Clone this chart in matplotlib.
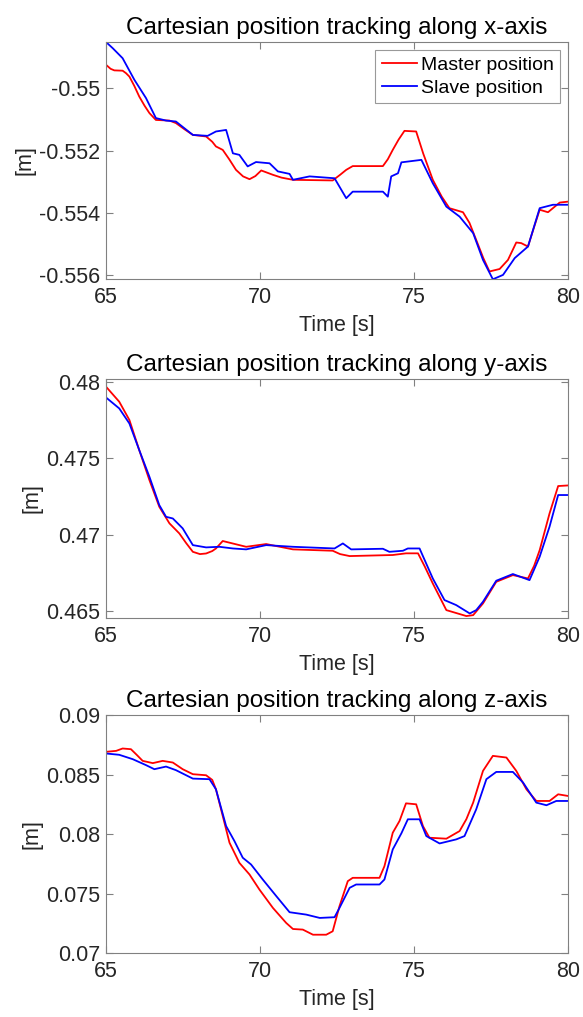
import matplotlib
matplotlib.use("Agg")
import matplotlib.pyplot as plt
from matplotlib import ticker

plt.rcParams["font.family"] = ["Liberation Sans", "DejaVu Sans"]

# x-axis tracking
x_t_master = [65, 65.15, 65.27, 65.54, 65.65, 65.76, 65.92, 66.08, 66.25, 66.41, 66.62, 67.06,
              67.27, 67.55, 67.82, 68.25, 68.45, 68.57, 68.79, 69.0, 69.22, 69.45, 69.66, 69.85,
              70.04, 70.42, 70.7, 71.07, 72.36, 72.6, 72.8, 73.01, 73.99, 74.15, 74.31, 74.5,
              74.69, 75.07, 75.3, 75.61, 75.9, 76.15, 76.59, 76.8, 77.02, 77.25, 77.45, 77.78,
              78.05, 78.32, 78.48, 78.7, 78.9, 79.08, 79.35, 79.73, 80]
x_master = [-0.54925, -0.54938, -0.54943, -0.54944, -0.54952, -0.54963, -0.54993, -0.55027,
            -0.55056, -0.5508, -0.55102, -0.55104, -0.55112, -0.55132, -0.5515, -0.55155,
            -0.55172, -0.55187, -0.55198, -0.55228, -0.55262, -0.55283, -0.55292, -0.55282,
            -0.55264, -0.55278, -0.55287, -0.55294, -0.55296, -0.55278, -0.55262, -0.5525,
            -0.5525, -0.55228, -0.55198, -0.55165, -0.55137, -0.55139, -0.5521, -0.55294,
            -0.55348, -0.55385, -0.55398, -0.55432, -0.55487, -0.55545, -0.55588, -0.5558,
            -0.55551, -0.55495, -0.55497, -0.55508, -0.55445, -0.5539, -0.55398, -0.55367,
            -0.55364]
x_t_slave = [65, 65.22, 65.54, 65.92, 66.3, 66.62, 66.95, 67.27, 67.82, 68.3, 68.57, 68.9,
             69.12, 69.33, 69.6, 69.87, 70.31, 70.58, 70.96, 71.07, 71.61, 72.42, 72.8, 73.01,
             73.99, 74.15, 74.26, 74.48, 74.59, 75.24, 75.61, 76.05, 76.48, 76.92, 77.24, 77.56,
             77.89, 78.27, 78.7, 79.08, 79.51, 80]
x_slave = [-0.54852, -0.54872, -0.54904, -0.54973, -0.55032, -0.55096, -0.55104, -0.55107,
           -0.5515, -0.55153, -0.55139, -0.55134, -0.55209, -0.55214, -0.55251, -0.55237,
           -0.55241, -0.55267, -0.55275, -0.55294, -0.55283, -0.55289, -0.55353, -0.55332,
           -0.55332, -0.55348, -0.55283, -0.55273, -0.55238, -0.5523, -0.55305, -0.5538,
           -0.55412, -0.55465, -0.55551, -0.55613, -0.55599, -0.55545, -0.55508, -0.55385,
           -0.55374, -0.55374]

# y-axis tracking
y_t_master = [65, 65.43, 65.76, 66.08, 66.41, 66.73, 67.06, 67.38, 67.6, 67.82, 68.05, 68.25,
              68.45, 68.57, 68.79, 69.55, 70.2, 71.07, 72.36, 72.6, 72.91, 74.31, 74.74, 75.13,
              75.35, 75.61, 76.05, 76.7, 76.92, 77.24, 77.67, 78.21, 78.7, 78.9, 79.08, 79.4,
              79.68, 80]
y_master = [0.47972, 0.47873, 0.47753, 0.47555, 0.47358, 0.47183, 0.47074, 0.47008, 0.46945,
            0.46887, 0.46872, 0.46876, 0.46892, 0.46909, 0.46958, 0.4692, 0.46938, 0.46903,
            0.46894, 0.46872, 0.46859, 0.46866, 0.46877, 0.46877, 0.4679, 0.46679, 0.46504,
            0.46465, 0.46471, 0.46548, 0.4669, 0.46734, 0.46712, 0.46795, 0.46898, 0.47139,
            0.47319, 0.47323]
y_t_slave = [65, 65.43, 65.76, 66.08, 66.41, 66.73, 66.95, 67.17, 67.49, 67.82, 68.25, 68.68,
             69.12, 69.55, 70.2, 71.07, 72.42, 72.69, 72.96, 73.99, 74.2, 74.64, 74.8, 75.18,
             75.61, 75.99, 76.37, 76.81, 77.02, 77.24, 77.67, 78.21, 78.75, 79.08, 79.4, 79.68, 80]
y_slave = [0.47901, 0.47829, 0.4773, 0.47555, 0.4738, 0.47194, 0.47117, 0.47106, 0.47041,
           0.46931, 0.46916, 0.4692, 0.46909, 0.46903, 0.46931, 0.4692, 0.46909, 0.46942,
           0.46903, 0.46907, 0.46887, 0.46894, 0.46909, 0.46909, 0.46712, 0.4657, 0.46537,
           0.46482, 0.46504, 0.46559, 0.46697, 0.46741, 0.46701, 0.46855, 0.47052, 0.4726, 0.4726]

# z-axis tracking
z_t_master = [65, 65.33, 65.54, 65.81, 66.0, 66.19, 66.52, 66.84, 67.17, 67.49, 67.82, 68.25,
              68.45, 68.57, 68.79, 69.01, 69.33, 69.66, 69.98, 70.42, 70.85, 71.07, 71.39, 71.72,
              72.15, 72.36, 72.58, 72.85, 73.01, 73.88, 74.04, 74.31, 74.53, 74.74, 75.07, 75.29,
              75.5, 76.05, 76.48, 76.7, 76.92, 77.24, 77.56, 78.0, 78.32, 78.65, 78.97, 79.4,
              79.68, 80]
z_master = [0.08691, 0.08699, 0.08719, 0.08713, 0.08665, 0.08615, 0.08596, 0.08615, 0.08601,
            0.08545, 0.08503, 0.08494, 0.08455, 0.08376, 0.08152, 0.07927, 0.07758, 0.0766,
            0.07534, 0.07379, 0.07253, 0.07202, 0.07197, 0.07154, 0.07154, 0.07183, 0.07393,
            0.07604, 0.07632, 0.07632, 0.0773, 0.08011, 0.0811, 0.08258, 0.0825, 0.08067,
            0.07969, 0.07961, 0.08025, 0.08125, 0.08264, 0.08531, 0.08657, 0.08643, 0.08531,
            0.08376, 0.08278, 0.08278, 0.08334, 0.0832]
z_t_slave = [65, 65.43, 65.87, 66.3, 66.57, 66.95, 67.27, 67.82, 68.36, 68.57, 68.9, 69.17,
             69.44, 69.71, 70.09, 70.53, 70.96, 71.5, 71.94, 72.42, 72.58, 72.91, 73.12, 73.88,
             74.04, 74.31, 74.59, 74.8, 75.18, 75.4, 75.83, 76.37, 76.64, 77.02, 77.35, 77.67,
             78.21, 78.54, 78.97, 79.3, 79.62, 80]
z_slave = [0.08677, 0.08666, 0.08629, 0.08579, 0.08545, 0.08567, 0.08537, 0.08466, 0.08461,
           0.08376, 0.08067, 0.07941, 0.07801, 0.07744, 0.07618, 0.07478, 0.07343, 0.07323,
           0.07295, 0.07301, 0.07379, 0.07548, 0.07576, 0.07576, 0.07618, 0.07871, 0.08006,
           0.08124, 0.08124, 0.07983, 0.07921, 0.07955, 0.07983, 0.08208, 0.08461, 0.08522,
           0.08522, 0.08433, 0.08264, 0.08242, 0.08278, 0.08278]

x_ticks = [65, 70, 75, 80]
panels = [
    ("x", x_t_master, x_master, x_t_slave, x_slave, (-0.55612, -0.54852),
     [-0.556, -0.554, -0.552, -0.55]),
    ("y", y_t_master, y_master, y_t_slave, y_slave, (0.46454, 0.4802),
     [0.465, 0.47, 0.475, 0.48]),
    ("z", z_t_master, z_master, z_t_slave, z_slave, (0.07, 0.09),
     [0.07, 0.075, 0.08, 0.085, 0.09]),
]
rects = [
    [0.1818, 0.7257, 0.7925, 0.233],
    [0.1818, 0.3926, 0.7925, 0.2344],
    [0.1818, 0.0629, 0.7925, 0.234],
]

fig = plt.figure(figsize=(5.83, 10.17), dpi=100)
txt = "#262626"
for (axis, tm, m, ts, s, ylim, yt), rect in zip(panels, rects):
    ax = fig.add_axes(rect)
    ax.plot(tm, m, color="red", lw=1.3, label="Master position")
    ax.plot(ts, s, color="blue", lw=1.3, label="Slave position")
    ax.set_xlim(65, 80)
    ax.set_ylim(*ylim)
    ax.set_xticks(x_ticks)
    ax.set_yticks(yt)
    ax.yaxis.set_major_formatter(ticker.FuncFormatter(lambda v, p: f"{v:g}"))
    ax.tick_params(direction="in", length=5, width=0.8, top=True, right=True,
                   labelsize=15.5, colors="#808080", labelcolor=txt, pad=4)
    ax.tick_params(axis="x", pad=6)
    for sp in ax.spines.values():
        sp.set_color("#808080")
        sp.set_linewidth(0.8)
    ax.set_title(f"Cartesian position tracking along {axis}-axis", fontsize=17.5,
                 color="black", pad=6)
    ax.set_xlabel("Time [s]", fontsize=15.5, color=txt, labelpad=5)
    ax.set_ylabel("[m]", fontsize=15.5, color=txt, labelpad=3)
    if axis == "x":
        leg = ax.legend(loc="upper right", fontsize=14, frameon=True, fancybox=False,
                        handlelength=1.8, borderpad=0.35, labelspacing=0.25,
                        handletextpad=0.2, borderaxespad=0.4)
        leg.get_frame().set_edgecolor("#808080")
        leg.get_frame().set_linewidth(0.8)

fig.savefig("out.png", dpi=100)
